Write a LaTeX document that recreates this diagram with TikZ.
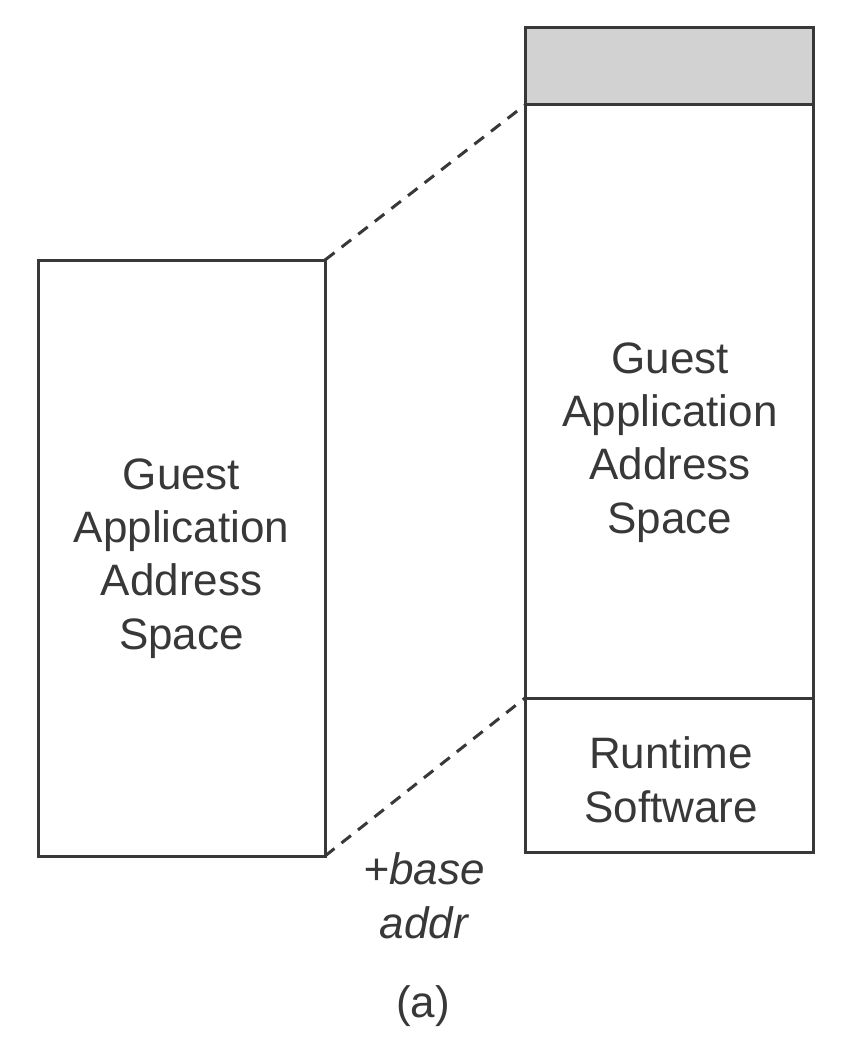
\documentclass[tikz,border=0pt]{standalone}
\usepackage{fontspec}
\setmainfont{Liberation Sans}
\definecolor{ink}{HTML}{383838}
\definecolor{shade}{HTML}{D2D2D2}
\begin{document}
\begin{tikzpicture}[x=1pt,y=-1pt,
  box/.style={draw=ink,line width=3pt,inner sep=0pt,outer sep=0pt,anchor=north west},
  lbl/.style={text=ink,inner sep=0pt,align=center,anchor=base,
    font=\fontsize{44}{53.3}\selectfont},
  ilbl/.style={lbl,font=\fontsize{44}{53.3}\selectfont\itshape},
  link/.style={draw=ink,line width=3pt,dash pattern=on 12pt off 9pt}]
\useasboundingbox (0,0) rectangle (849,1043);
% left box
\node[box,minimum width=287pt,minimum height=596pt] (lbox) at (38,260) {};
% right column
\node[box,fill=shade,minimum width=288pt,minimum height=77pt] (rtop) at (525,28) {};
\node[box,minimum width=288pt,minimum height=593pt] (rmid) at (525,105) {};
\node[box,minimum width=288pt,minimum height=154pt] (rbot) at (525,698) {};
% labels
\node[lbl] (ltext) at (181.5,649) {Guest\\Application\\Address\\Space};
\node[lbl] (rtext) at (670,533) {Guest\\Application\\Address\\Space};
\node[lbl] (rtsw) at (671,822) {Runtime\\Software};
\node[ilbl] (base) at (424,938) {+base\\addr};
\node[lbl] (cap) at (423,1017) {(a)};
% dashed mapping lines
\draw[link] (lbox.north east) -- (rmid.north west);
\draw[link] (lbox.south east) -- (rbot.north west);
\end{tikzpicture}
\end{document}
